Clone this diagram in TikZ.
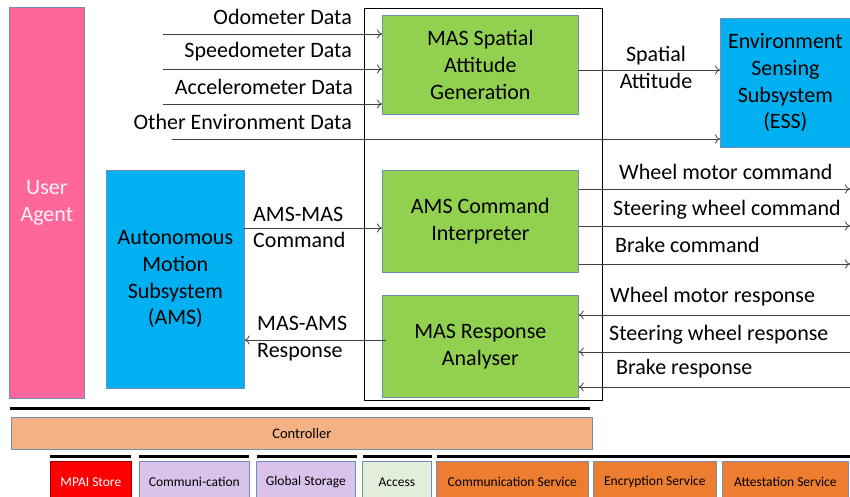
\documentclass[tikz,border=0pt]{standalone}
\usepackage{fontspec}
\setmainfont{Carlito}
\usetikzlibrary{arrows.meta}

\definecolor{agentpink}{HTML}{FF6699}
\definecolor{mgreen}{HTML}{92D050}
\definecolor{sysblue}{HTML}{00B0F0}
\definecolor{ctrlorange}{HTML}{F4B183}
\definecolor{svcorange}{HTML}{ED7D31}
\definecolor{lavender}{HTML}{D9C3EB}
\definecolor{palegreen}{HTML}{E2EFDA}
\definecolor{edgeblue}{HTML}{6F8FB8}
\definecolor{wire}{HTML}{404040}

\begin{document}
\begin{tikzpicture}[x=1pt,y=-1pt,
  blk/.style={draw=edgeblue, line width=0.7pt, inner sep=0pt, anchor=north west,
              align=center, font=\fontsize{22}{26.7}\selectfont},
  small/.style={draw=#1, line width=0.7pt, inner sep=0pt, anchor=north west,
                align=center, font=\fontsize{13.5}{15}\selectfont},
  lbl/.style={inner sep=0pt, font=\fontsize{22}{26.7}\selectfont},
  arr/.style={draw=wire, line width=0.8pt, -{To[length=5pt,width=9pt]}},
  bar/.style={line width=3pt, black},
  ln/.style={draw=wire, line width=0.8pt}]

\clip (0,0) rectangle (850,497);
\fill[white] (0,0) rectangle (850,497);

% user agent column
\node[blk, fill=agentpink, minimum width=75, minimum height=391, text=white!92!agentpink]
  (ua) at (9,7) {User\\Agent};

% frame around the MAS components
\node[draw=black, line width=0.8pt, anchor=north west, inner sep=0pt,
      minimum width=238, minimum height=392] (mas) at (364,8) {};

% MAS components
\node[blk, fill=mgreen, minimum width=196, minimum height=99] (sag) at (382,15)
  {MAS Spatial\\Attitude\\Generation};
\node[blk, fill=mgreen, minimum width=196, minimum height=102] (aci) at (382,170)
  {AMS Command\\Interpreter};
\node[blk, fill=mgreen, minimum width=196, minimum height=102] (mra) at (382,295)
  {MAS Response\\Analyser};

% subsystems
\node[blk, fill=sysblue, minimum width=130, minimum height=129] (ess) at (720,18)
  {Environment\\Sensing\\Subsystem\\(ESS)};
\node[blk, fill=sysblue, minimum width=138, minimum height=218] (ams) at (106,170)
  {Autonomous\\Motion\\Subsystem\\(AMS)};

% sensor inputs
\coordinate (odo) at (163,34);
\coordinate (spd) at (163,69);
\coordinate (acc) at (163,104);
\coordinate (oth) at (172,139);
\draw[arr] (odo) -- (odo -| sag.west);
\draw[arr] (spd) -- (spd -| sag.west);
\draw[arr] (acc) -- (acc -| sag.west);
\draw[arr] (oth) -- (oth -| ess.west);
\node[lbl, anchor=east] (lodo) at (352,17) {Odometer Data};
\node[lbl, anchor=east] (lspd) at (352,52) {Speedometer Data};
\node[lbl, anchor=east] (lacc) at (353,87) {Accelerometer Data};
\node[lbl, anchor=east] (loth) at (352,122) {Other Environment Data};

% spatial attitude to ESS
\coordinate (sa) at (578,70);
\draw[arr] (sa) -- (sa -| ess.west);
\node[lbl, align=center] (lsa) at (656,67.5) {Spatial\\Attitude};

% AMS <-> MAS
\coordinate (cmd) at (244,228);
\draw[arr] (cmd) -- (cmd -| aci.west);
\node[lbl, align=left, anchor=west] (lcmd) at (253,227.5) {AMS-MAS\\Command};
\coordinate (rsp) at (386,340);
\draw[arr] (rsp) -- (rsp -| ams.east);
\node[lbl, align=left, anchor=west] (lrsp) at (257,338.5) {MAS-AMS\\Response};

% commands out
\coordinate (wmc) at (850,189);
\coordinate (swc) at (850,226);
\coordinate (brc) at (850,264);
\draw[arr] (wmc -| aci.east) -- (wmc);
\draw[arr] (swc -| aci.east) -- (swc);
\draw[arr] (brc -| aci.east) -- (brc);
\node[lbl, anchor=west] (lwmc) at (619,172) {Wheel motor command};
\node[lbl, anchor=west] (lswc) at (613,210) {Steering wheel command};
\node[lbl, anchor=west] (lbrc) at (615,245) {Brake command};

% responses in
\coordinate (wmr) at (850,315);
\coordinate (swr) at (850,352);
\coordinate (brr) at (850,387);
\draw[arr] (wmr) -- (wmr -| mra.east);
\draw[arr] (swr) -- (swr -| mra.east);
\draw[arr] (brr) -- (brr -| mra.east);
\node[lbl, anchor=west] (lwmr) at (610,297) {Wheel motor response};
\node[lbl, anchor=west] (lswr) at (609,335) {Steering wheel response};
\node[lbl, anchor=west] (lbrr) at (616,369) {Brake response};

% controller layer
\draw[bar] (10,408) -- (590,408);
\node[small=edgeblue, fill=ctrlorange, minimum width=581, minimum height=32,
      font=\fontsize{14.5}{16}\selectfont] (ctl) at (11,417) {Controller};

% services layer
\draw[bar] (50,456) -- (131,456);
\draw[bar] (139,456) -- (249,456);
\draw[bar] (257,456) -- (357,456);
\draw[bar] (363,456) -- (432,456);
\draw[bar] (437,456) -- (850,456);
\node[small=red!60!black, fill=red, text=white, minimum width=81, minimum height=42]
  (store) at (50,461) {MPAI Store};
\node[small=edgeblue, fill=lavender, minimum width=110, minimum height=42]
  (comm) at (139,461) {Communi-cation};
\node[small=edgeblue, fill=lavender, minimum width=99, minimum height=42]
  (gst) at (256,461) {Global Storage};
\node[small=edgeblue, fill=palegreen, minimum width=69, minimum height=42]
  (acs) at (362,461) {Access};
\node[small=edgeblue, fill=svcorange, minimum width=152, minimum height=42]
  (csv) at (436,461) {Communication Service};
\node[small=edgeblue, fill=svcorange, minimum width=123, minimum height=42]
  (esv) at (593,461) {Encryption Service};
\node[small=edgeblue, fill=svcorange, minimum width=126, minimum height=42]
  (asv) at (722,461) {Attestation Service};
\end{tikzpicture}
\end{document}
